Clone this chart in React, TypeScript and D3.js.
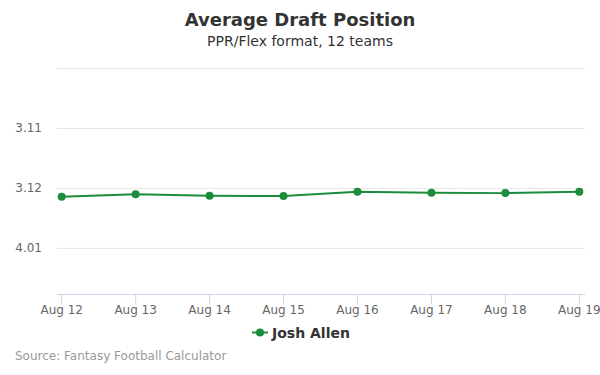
import React from "react";
import * as d3 from "d3";

const dates = ["Aug 12", "Aug 13", "Aug 14", "Aug 15", "Aug 16", "Aug 17", "Aug 18", "Aug 19"];
const adpPick = [36.14, 36.095, 36.123, 36.128, 36.057, 36.073, 36.078, 36.057];
const gridPicks = [34, 35, 36, 37];
const labeledPicks = [35, 36, 37];
const tickLabels: Record<number, string> = { 35: "3.11", 36: "3.12", 37: "4.01" };
const seriesName = "Josh Allen";

const W = 600;
const H = 375;
const FONT = "DejaVu Sans, sans-serif";
const GREEN = "#1b8c3b";

export default function App() {
  const x = d3.scalePoint<string>().domain(dates).range([61.7, 579.3]);
  const y = d3.scaleLinear().domain([34, 37.76]).range([68.5, 294]);
  const line = d3
    .line<number>()
    .x((_, i) => x(dates[i]) as number)
    .y((d) => y(d));

  return (
    <svg width={W} height={H} style={{ position: "absolute", left: 0, top: 0, fontFamily: FONT }}>
      <rect width={W} height={H} fill="#fff" />
      <text x={300} y={26} textAnchor="middle" fontSize={18} fontWeight="bold" fill="#333">
        Average Draft Position
      </text>
      <text x={300} y={46} textAnchor="middle" fontSize={14} fill="#333">
        PPR/Flex format, 12 teams
      </text>
      {gridPicks.map((p) => (
        <line key={p} x1={57} x2={585} y1={y(p)} y2={y(p)} stroke="#e6e6e6" strokeWidth={1} />
      ))}
      {labeledPicks.map((p) => (
        <text key={p} x={42} y={y(p) + 4} textAnchor="end" fontSize={12} fill="#666">
          {tickLabels[p]}
        </text>
      ))}
      <line x1={57} x2={585} y1={294.5} y2={294.5} stroke="#ccd6eb" strokeWidth={1} />
      {dates.map((d) => (
        <g key={d}>
          <line x1={x(d)} x2={x(d)} y1={294.5} y2={304.5} stroke="#ccd6eb" strokeWidth={1} />
          <text x={x(d)} y={314} textAnchor="middle" fontSize={12} fill="#666">
            {d}
          </text>
        </g>
      ))}
      <path d={line(adpPick) || ""} fill="none" stroke={GREEN} strokeWidth={2} />
      {adpPick.map((v, i) => (
        <circle key={i} cx={x(dates[i])} cy={y(v)} r={4} fill={GREEN} />
      ))}
      <line x1={252} x2={268} y1={332.5} y2={332.5} stroke={GREEN} strokeWidth={2} />
      <circle cx={260} cy={332.5} r={4} fill={GREEN} />
      <text x={272} y={337.5} fontSize={14} fontWeight="bold" fill="#333">
        {seriesName}
      </text>
      <text x={15} y={360} fontSize={12} fill="#999">
        Source: Fantasy Football Calculator
      </text>
    </svg>
  );
}
